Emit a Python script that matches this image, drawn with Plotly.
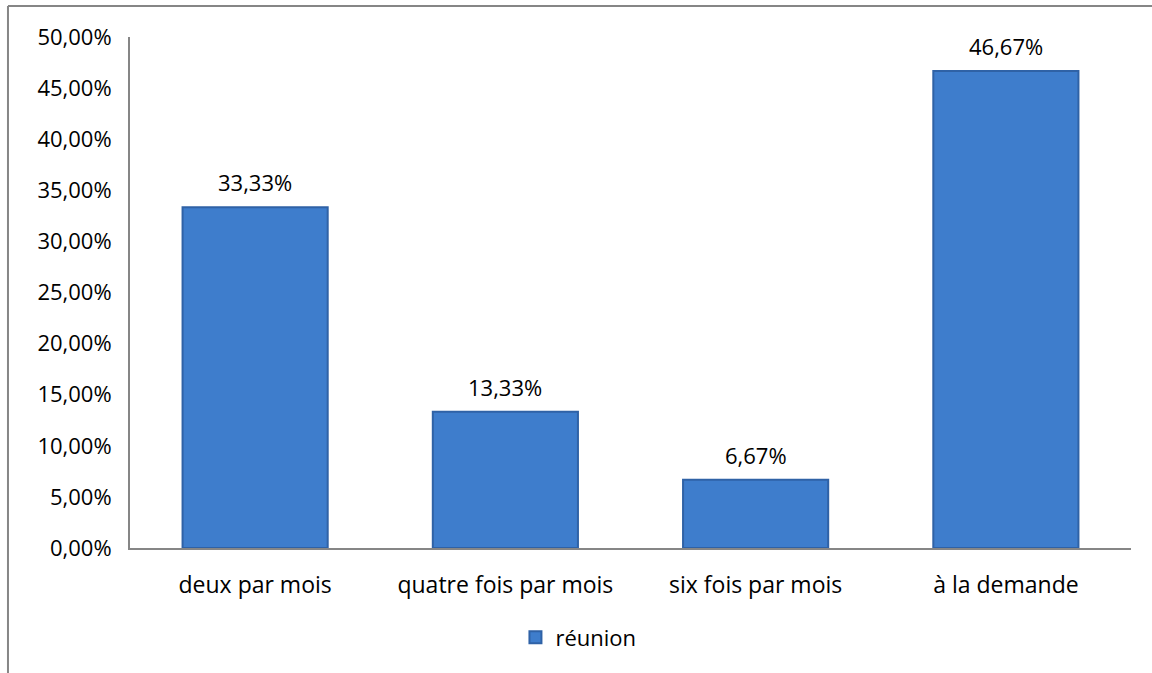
import plotly.graph_objects as go

# Données
categories = ["deux par mois", "quatre fois par mois", "six fois par mois", "à la demande"]
valeurs = [0.3333, 0.1333, 0.0667, 0.4667]
serie = "réunion"

FONT = "'Open Sans', sans-serif"
FS = 22

fig = go.Figure()
fig.add_trace(go.Bar(
    x=categories,
    y=valeurs,
    name=serie,
    width=0.58,
    marker=dict(color="#3e7dcc", line=dict(color="#2f62a6", width=2)),
    hoverinfo="skip",
))

# étiquettes de données au-dessus des barres
for c, v in zip(categories, valeurs):
    fig.add_annotation(x=c, y=v, text=f"{v*100:.2f}%".replace(".", ","),
                       showarrow=False, yanchor="bottom", yshift=8,
                       font=dict(size=FS, color="#000000", family=FONT))

# cadre du graphique (gris, coupé à droite et en bas)
fig.add_shape(type="line", xref="paper", yref="paper",
              x0=-0.1219, x1=-0.1219, y0=-0.4, y1=1.0607,
              line=dict(color="#868686", width=2))
fig.add_shape(type="line", xref="paper", yref="paper",
              x0=-0.1219, x1=1.1, y0=1.0607, y1=1.0607,
              line=dict(color="#868686", width=2))

fig.update_layout(
    width=1152, height=673,
    margin=dict(l=130, r=21, t=37, b=125, autoexpand=False),
    paper_bgcolor="white", plot_bgcolor="white",
    separators=", ",
    font=dict(family=FONT, size=FS, color="#000000"),
    showlegend=True,
    legend=dict(orientation="h", x=0.448, xanchor="center", y=-0.134, yanchor="top",
                font=dict(size=FS), itemwidth=30),
    xaxis=dict(showline=True, linecolor="#868686", linewidth=2, showgrid=False,
               ticks="outside", ticklen=15, tickcolor="rgba(0,0,0,0)",
               tickfont=dict(size=23), automargin=False),
    yaxis=dict(range=[0, 0.5], dtick=0.05, tickformat=".2%",
               showline=True, linecolor="#868686", linewidth=2, showgrid=False,
               zeroline=False, ticks="outside", ticklen=12, tickcolor="rgba(0,0,0,0)",
               tickfont=dict(size=FS), automargin=False),
)

# page sans marge pour que le cadre tombe au bon endroit
fig.write_html("out.html", config={"displayModeBar": False},
               post_script="document.body.style.margin='0';")
